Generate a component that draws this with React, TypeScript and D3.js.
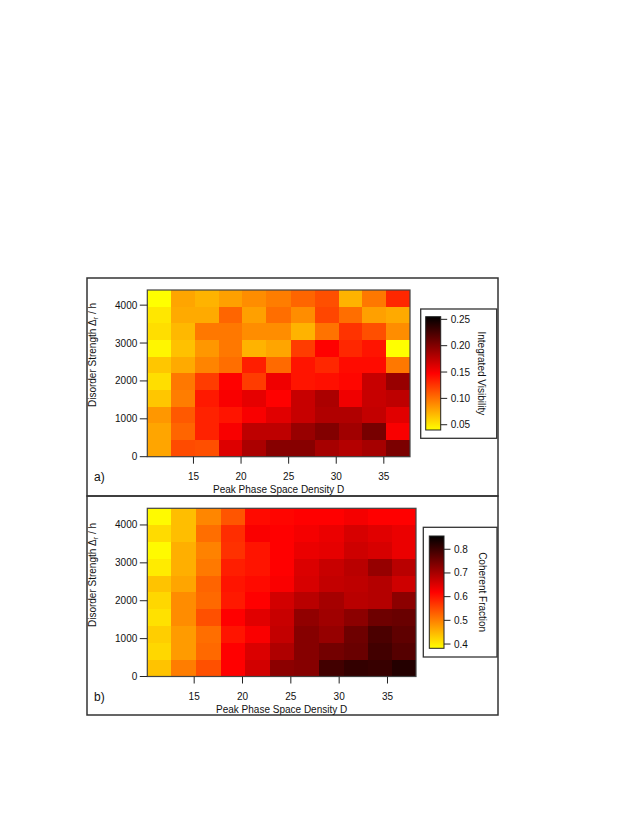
import React from 'react';
import * as d3 from 'd3';

// peak phase space density D (cell centres)
const densityA = [11.4, 13.9, 16.4, 18.9, 21.4, 23.9, 26.5, 29.0, 31.5, 34.0, 36.5];
const densityB = [11.4, 13.9, 16.5, 19.0, 21.5, 24.1, 26.6, 29.2, 31.7, 34.2, 36.7];
// disorder strength (cell centres, Hz)
const disorderA = [220, 660, 1100, 1540, 1980, 2420, 2860, 3300, 3740, 4180];
const disorderB = [222, 666, 1110, 1554, 1998, 2442, 2886, 3330, 3774, 4218];

// one row per disorder level (lowest first), one value per density
const visibility = [
  [0.078, 0.116, 0.114, 0.162, 0.183, 0.198, 0.198, 0.185, 0.179, 0.185, 0.203],
  [0.078, 0.105, 0.133, 0.150, 0.175, 0.175, 0.191, 0.200, 0.187, 0.205, 0.150],
  [0.084, 0.110, 0.133, 0.139, 0.150, 0.160, 0.171, 0.181, 0.181, 0.173, 0.160],
  [0.064, 0.095, 0.137, 0.150, 0.158, 0.147, 0.171, 0.183, 0.154, 0.171, 0.175],
  [0.054, 0.097, 0.122, 0.147, 0.122, 0.154, 0.139, 0.141, 0.145, 0.171, 0.191],
  [0.064, 0.076, 0.092, 0.101, 0.135, 0.103, 0.139, 0.131, 0.143, 0.143, 0.097],
  [0.044, 0.066, 0.084, 0.097, 0.072, 0.078, 0.122, 0.147, 0.131, 0.139, 0.040],
  [0.054, 0.070, 0.097, 0.097, 0.088, 0.088, 0.072, 0.099, 0.126, 0.114, 0.088],
  [0.050, 0.076, 0.076, 0.105, 0.080, 0.101, 0.088, 0.118, 0.101, 0.080, 0.076],
  [0.040, 0.078, 0.072, 0.080, 0.088, 0.095, 0.105, 0.114, 0.072, 0.097, 0.131],
];

const coherent = [
  [0.438, 0.503, 0.545, 0.619, 0.661, 0.726, 0.731, 0.795, 0.809, 0.805, 0.823],
  [0.419, 0.475, 0.521, 0.619, 0.652, 0.693, 0.731, 0.749, 0.758, 0.795, 0.777],
  [0.428, 0.475, 0.517, 0.600, 0.624, 0.675, 0.731, 0.717, 0.754, 0.786, 0.768],
  [0.410, 0.489, 0.545, 0.619, 0.647, 0.670, 0.721, 0.707, 0.726, 0.754, 0.758],
  [0.419, 0.489, 0.521, 0.596, 0.619, 0.661, 0.684, 0.703, 0.684, 0.689, 0.726],
  [0.438, 0.466, 0.526, 0.600, 0.610, 0.624, 0.656, 0.675, 0.679, 0.689, 0.665],
  [0.401, 0.456, 0.507, 0.591, 0.600, 0.619, 0.652, 0.670, 0.684, 0.717, 0.684],
  [0.387, 0.456, 0.498, 0.573, 0.600, 0.619, 0.638, 0.642, 0.665, 0.656, 0.638],
  [0.415, 0.442, 0.517, 0.577, 0.624, 0.619, 0.628, 0.638, 0.656, 0.647, 0.638],
  [0.387, 0.442, 0.494, 0.540, 0.610, 0.614, 0.619, 0.619, 0.628, 0.619, 0.619],
];

const xTicks = [15, 20, 25, 30, 35];
const yTicks = [0, 1000, 2000, 3000, 4000];
const visTicks = [0.05, 0.1, 0.15, 0.2, 0.25];
const cohTicks = [0.4, 0.5, 0.6, 0.7, 0.8];

const FONT = '"Liberation Sans", Arial, Helvetica, sans-serif';
const FRAME = '#333';

// yellow -> red -> black
const yellowHot = (t: number) => {
  t = Math.max(0, Math.min(1, t));
  if (t < 0.5) return d3.rgb(255, 255 * (1 - 2 * t), 0).toString();
  return d3.rgb(255 * (2 - 2 * t), 0, 0).toString();
};

// cell boundaries from centres: midpoints between neighbours, half a step beyond the ends
const edgesOf = (c: number[]) => {
  const n = c.length;
  const e = [c[0] - (c[1] - c[0]) / 2];
  for (let i = 1; i < n; i++) e.push((c[i - 1] + c[i]) / 2);
  e.push(c[n - 1] + (c[n - 1] - c[n - 2]) / 2);
  return e;
};

function Panel(props: any) {
  const { density, disorder, values, box, cbar, cDomain, cTicks, cFmt, cLabel, legend, tag, frame, yLabelY } = props;
  const xe = edgesOf(density);
  const ye = edgesOf(disorder);
  const x = d3.scaleLinear().domain([xe[0], xe[xe.length - 1]]).range([box.left, box.right]);
  const y = d3.scaleLinear().domain([ye[0], ye[ye.length - 1]]).range([box.bottom, box.top]);
  const color = d3.scaleSequential(yellowHot).domain(cDomain);
  const cy = d3.scaleLinear().domain(cDomain).range([cbar.bottom, cbar.top]);
  const gid = 'grad-' + tag;

  const cells: any[] = [];
  values.forEach((row: number[], j: number) => {
    row.forEach((v, i) => {
      const x0 = Math.round(x(xe[i])), x1 = Math.round(x(xe[i + 1]));
      const y0 = Math.round(y(ye[j + 1])), y1 = Math.round(y(ye[j]));
      cells.push(
        <rect key={i + '-' + j} x={x0} y={y0} width={x1 - x0} height={y1 - y0}
              fill={color(v)} shapeRendering="crispEdges" />
      );
    });
  });

  return (
    <g fontFamily={FONT} fontSize={10} fill="#111">
      <rect x={frame.left} y={frame.top} width={frame.right - frame.left} height={frame.bottom - frame.top}
            fill="none" stroke={FRAME} strokeWidth={1.5} />
      {cells}
      <rect x={box.left} y={box.top} width={box.right - box.left} height={box.bottom - box.top}
            fill="none" stroke="#444" strokeWidth={1.2} />
      {yTicks.map(t => (
        <g key={'y' + t}>
          <line x1={box.left - 7.5} x2={box.left} y1={y(t)} y2={y(t)} stroke="#222" strokeWidth={1} />
          <text x={box.left - 10} y={y(t)} dy="0.35em" textAnchor="end">{t}</text>
        </g>
      ))}
      {xTicks.map(t => (
        <g key={'x' + t}>
          <line x1={x(t)} x2={x(t)} y1={box.bottom} y2={box.bottom + 7} stroke="#222" strokeWidth={1} />
          <text x={x(t)} y={box.bottom + 23.5} textAnchor="middle">{t}</text>
        </g>
      ))}
      <text x={(box.left + box.right) / 2} y={box.bottom + 36.5} textAnchor="middle">Peak Phase Space Density D</text>
      <text transform={`translate(96,${yLabelY}) rotate(-90)`} textAnchor="middle">
        Disorder Strength Δ<tspan fontSize={7} dy={2}>r</tspan><tspan dy={-2}> / h</tspan>
      </text>
      <text x={94} y={box.bottom + 24} fontSize={12}>{tag})</text>

      <rect x={legend.left} y={legend.top} width={legend.right - legend.left} height={legend.bottom - legend.top}
            fill="white" stroke={FRAME} strokeWidth={1.3} />
      <defs>
        <linearGradient id={gid} x1="0" y1="1" x2="0" y2="0">
          <stop offset="0" stopColor="rgb(255,255,0)" />
          <stop offset="0.5" stopColor="rgb(255,0,0)" />
          <stop offset="1" stopColor="rgb(0,0,0)" />
        </linearGradient>
      </defs>
      <rect x={cbar.left} y={cbar.top} width={cbar.right - cbar.left} height={cbar.bottom - cbar.top}
            fill={`url(#${gid})`} stroke="#222" strokeWidth={1} />
      {cTicks.map((t: number) => (
        <g key={'c' + t}>
          <line x1={cbar.right} x2={cbar.right + 6.5} y1={cy(t)} y2={cy(t)} stroke="#222" strokeWidth={1} />
          <text x={cbar.right + 10} y={cy(t)} dy="0.35em">{d3.format(cFmt)(t)}</text>
        </g>
      ))}
      <text transform={`translate(${legend.right - 15},${(cbar.top + cbar.bottom) / 2}) rotate(90)`}
            textAnchor="middle" dy="0.35em">{cLabel}</text>
    </g>
  );
}

export default function App() {
  return (
    <svg width={638} height={825} style={{ position: 'absolute', left: 0, top: 0, background: 'white' }}>
      <Panel tag="a" density={densityA} disorder={disorderA} values={visibility}
             frame={{ left: 87, right: 498, top: 278, bottom: 496 }}
             box={{ left: 147.3, right: 410, top: 290, bottom: 456.7 }}
             legend={{ left: 420.7, right: 496.7, top: 309, bottom: 438.3 }}
             cbar={{ left: 425.7, right: 440.7, top: 316.7, bottom: 430 }}
             cDomain={[0.04, 0.255]} cTicks={visTicks} cFmt=".2f" cLabel="Integrated Visibility"
             yLabelY={355} />
      <Panel tag="b" density={densityB} disorder={disorderB} values={coherent}
             frame={{ left: 87, right: 498, top: 496, bottom: 715 }}
             box={{ left: 147.3, right: 416, top: 508.3, bottom: 676.5 }}
             legend={{ left: 423.3, right: 497, top: 527.3, bottom: 657 }}
             cbar={{ left: 429.3, right: 444, top: 536, bottom: 648.3 }}
             cDomain={[0.382, 0.856]} cTicks={cohTicks} cFmt=".1f" cLabel="Coherent Fraction"
             yLabelY={575} />
    </svg>
  );
}
